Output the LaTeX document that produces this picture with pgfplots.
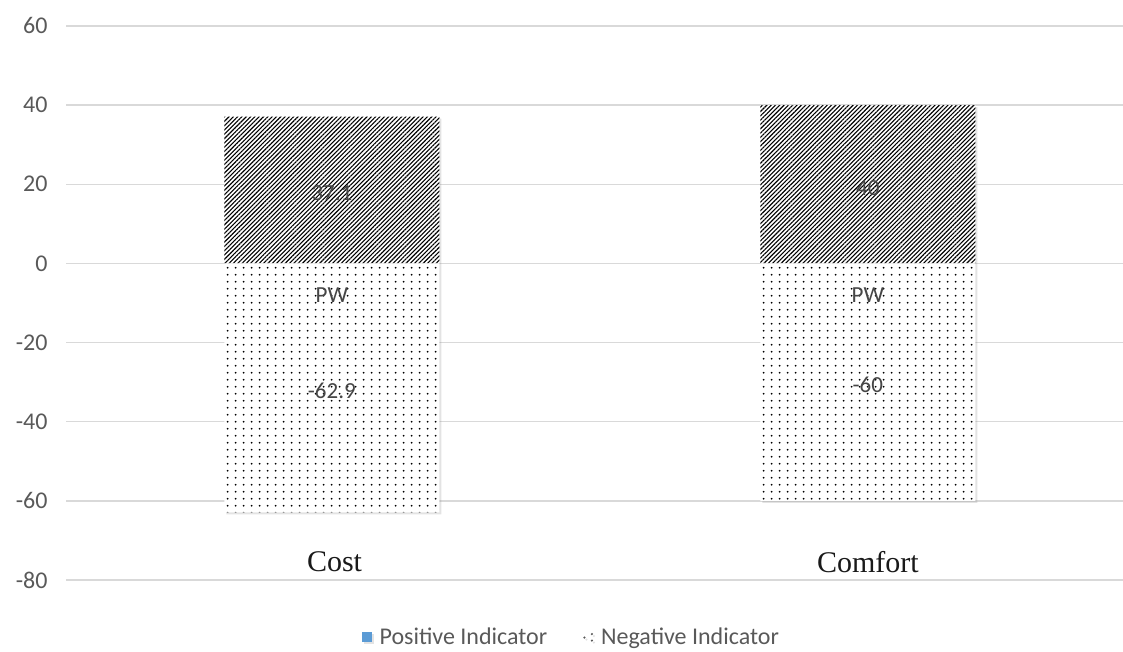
\documentclass[border=0pt]{standalone}
\usepackage{fontspec}
\setmainfont{Carlito}
\newfontfamily\catfont{Liberation Serif}
\usepackage{pgfplots}
\pgfplotsset{compat=1.18}
\usetikzlibrary{patterns,patterns.meta,shadows}

% sparse dot fill for the negative indicator
\pgfdeclarepatternformonly{sparsedots}{\pgfpointorigin}{\pgfpoint{8pt}{7.2pt}}{\pgfpoint{8pt}{7.2pt}}{%
  \pgfpathcircle{\pgfpoint{4pt}{3.6pt}}{1.1pt}%
  \pgfusepath{fill}}

\definecolor{gridgray}{RGB}{217,217,217}
\definecolor{ticktext}{RGB}{89,89,89}
\definecolor{valtext}{RGB}{70,70,70}
\definecolor{legblue}{RGB}{91,155,213}

\begin{document}
\begin{tikzpicture}
\path[use as bounding box] (0,0) rectangle (1123pt,652pt);
\begin{axis}[
  at={(66pt,72pt)}, anchor=south west,
  scale only axis,
  width=1057pt, height=554pt,
  xmin=-0.496, xmax=1.476,
  ymin=-80, ymax=60,
  ytick={-80,-60,-40,-20,0,20,40,60},
  xtick=\empty,
  axis line style={draw=none},
  major tick length=0pt,
  ymajorgrids,
  grid style={gridgray, line width=1.3pt},
  /pgf/number format/assume math mode=true,
  yticklabel style={font=\fontsize{24}{28}\selectfont, text=ticktext, xshift=-15pt},
  ybar, bar width=215pt, bar shift=0pt,
  legend columns=2,
  legend style={draw=none, fill=none, at={(0.478,-0.103)}, anchor=center,
    font=\fontsize{24}{28}\selectfont, text=ticktext,
    /tikz/every even column/.append style={column sep=34pt},
    /tikz/every odd column/.append style={column sep=6pt}},
]
% positive indicator (hatched)
\addplot[draw=none,
  drop shadow={shadow xshift=2pt, shadow yshift=-2pt, opacity=0.22},
  preaction={fill=white},
  pattern={Lines[angle=45, distance=3.05pt, line width=1.1pt]}, pattern color=black,
  legend image code/.code={\fill[legblue] (0pt,-5pt) rectangle (10pt,5pt);}]
  coordinates {(0,37.1) (1,40)};
\addlegendentry{Positive Indicator}
% negative indicator (dotted)
\addplot[draw=none,
  drop shadow={shadow xshift=2pt, shadow yshift=-2pt, opacity=0.22},
  preaction={fill=white},
  pattern=sparsedots, pattern color=black,
  legend image code/.code={
    \fill[ticktext] (1.5pt,-0.5pt) circle (1.2pt);
    \fill[ticktext] (9pt,-3.5pt) circle (1.2pt);
    \fill[ticktext] (9pt,3pt) circle (1.2pt);}]
  coordinates {(0,-62.9) (1,-60)};
\addlegendentry{Negative Indicator}

% value labels
\begin{scope}[every node/.style={font=\fontsize{23}{27}\selectfont, text=valtext}]
\node[yshift=-3.5pt] at (axis cs:0,18.55) {37.1};
\node[yshift=-3.5pt] at (axis cs:1,20) {40};
\node at (axis cs:0,-8) {PW};
\node at (axis cs:1,-8) {PW};
\node[yshift=-3pt] at (axis cs:0,-31.45) {-62.9};
\node[yshift=-3pt] at (axis cs:1,-30) {-60};
\end{scope}

% category names
\node[font=\catfont\fontsize{30}{34}\selectfont, text=black!90] at (axis cs:0.005,-75.5) {Cost};
\node[font=\catfont\fontsize{30}{34}\selectfont, text=black!90] at (axis cs:1,-75.5) {Comfort};
\end{axis}
\end{tikzpicture}
\end{document}
